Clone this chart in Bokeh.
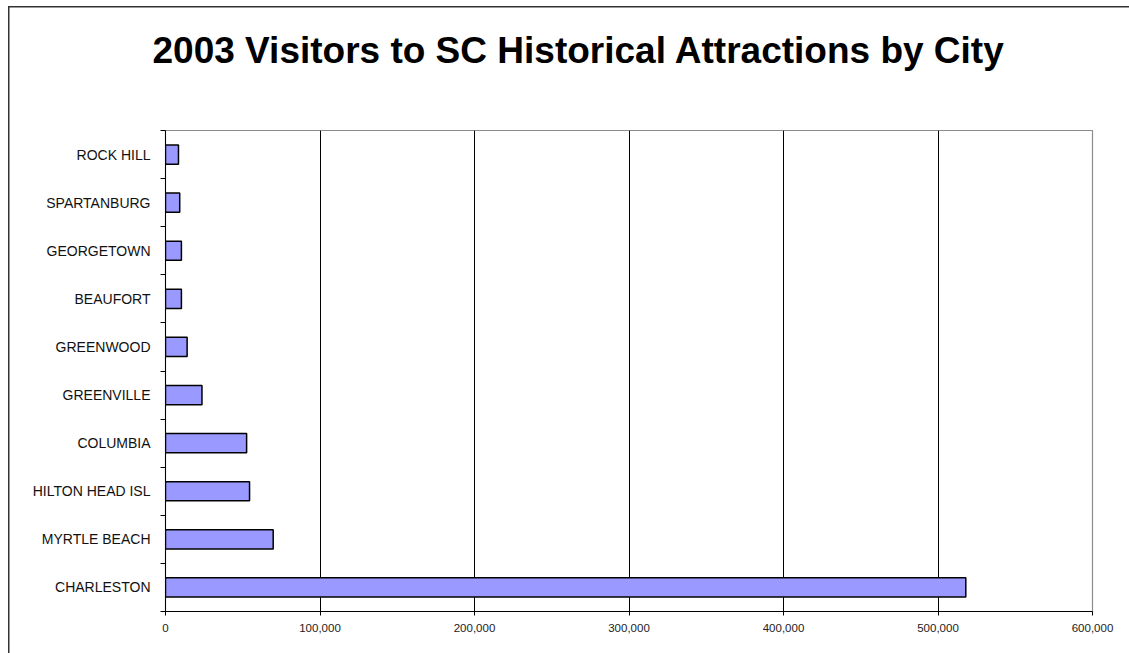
from bokeh.plotting import figure
from bokeh.models import (ColumnDataSource, FixedTicker, NumeralTickFormatter,
                          Range1d, Title)
from bokeh.embed import file_html
from bokeh.resources import INLINE

# Visitors in 2003, listed from the bottom of the chart to the top
cities = ["CHARLESTON", "MYRTLE BEACH", "HILTON HEAD ISL", "COLUMBIA",
          "GREENVILLE", "GREENWOOD", "BEAUFORT", "GEORGETOWN",
          "SPARTANBURG", "ROCK HILL"]
visitors = [518000, 69700, 54400, 52500, 23600, 14000, 10300, 10300,
            9200, 8400]
x_ticks = [0, 100000, 200000, 300000, 400000, 500000, 600000]

FONT = "Liberation Sans, Arial, Helvetica, sans-serif"

slots = [i + 0.5 for i in range(len(cities))]
src = ColumnDataSource(dict(city=cities, visitors=visitors, slot=slots))

p = figure(width=1129, height=653, output_backend="svg", toolbar_location=None,
           x_range=Range1d(0, 600000), y_range=Range1d(0, len(cities)),
           min_border_left=165, min_border_right=37, min_border_bottom=42,
           min_border_top=130, background_fill_color="white",
           border_fill_color="white", border_fill_alpha=0,
           outline_line_color="#8c8c8c", outline_line_width=1.2,
           title="2003 Visitors to SC Historical Attractions by City")
# outer chart border (left and top edges) painted behind the transparent canvas
p.styles = {"background":
            "linear-gradient(#333333, #333333) 8px 6px / 1.5px 100% no-repeat, "
            "linear-gradient(#333333, #333333) 8px 6px / 100% 1.5px no-repeat, "
            "#ffffff"}

p.hbar(y="slot", right="visitors", left=0, height=0.4, source=src,
       fill_color="#9999ff", line_color="#000000", line_width=1.5)

# title: a blank spacer keeps it clear of the plot frame
p.title.text_font = FONT
p.title.text_font_size = "37px"
p.title.text_font_style = "bold"
p.title.text_color = "#000000"
p.title.align = "left"
p.title.offset = -13
p.title.standoff = 10
p.title.vertical_align = "bottom"
p.add_layout(Title(text=" ", text_font_size="10px", standoff=42), "above")

# x axis
xa = p.xaxis[0]
xa.ticker = FixedTicker(ticks=x_ticks)
xa.formatter = NumeralTickFormatter(format="0,0")
xa.axis_line_color = "#000000"
xa.major_tick_line_color = "#000000"
xa.major_tick_in = 0
xa.major_tick_out = 4
xa.minor_tick_line_color = None
xa.major_label_text_font = FONT
xa.major_label_text_font_size = "11.5px"
xa.major_label_text_color = "#222222"
xa.major_label_standoff = 8

# y axis: city names at slot centres, ticks at slot boundaries
ya = p.yaxis[0]
ya.ticker = FixedTicker(ticks=slots, minor_ticks=list(range(len(cities) + 1)))
ya.major_label_overrides = {s: c for s, c in zip(slots, cities)}
ya.axis_line_color = "#000000"
ya.major_tick_line_color = None
ya.major_tick_in = 0
ya.major_tick_out = 0
ya.minor_tick_line_color = "#000000"
ya.minor_tick_in = 0
ya.minor_tick_out = 5
ya.major_label_text_font = FONT
ya.major_label_text_font_size = "14px"
ya.major_label_text_color = "#111111"
ya.major_label_standoff = 10

p.xgrid.ticker = FixedTicker(ticks=x_ticks[1:-1])
p.xgrid.grid_line_color = "#000000"
p.xgrid.grid_line_width = 1
p.ygrid.grid_line_color = None

with open("out.html", "w") as f:
    f.write(file_html(p, INLINE))
